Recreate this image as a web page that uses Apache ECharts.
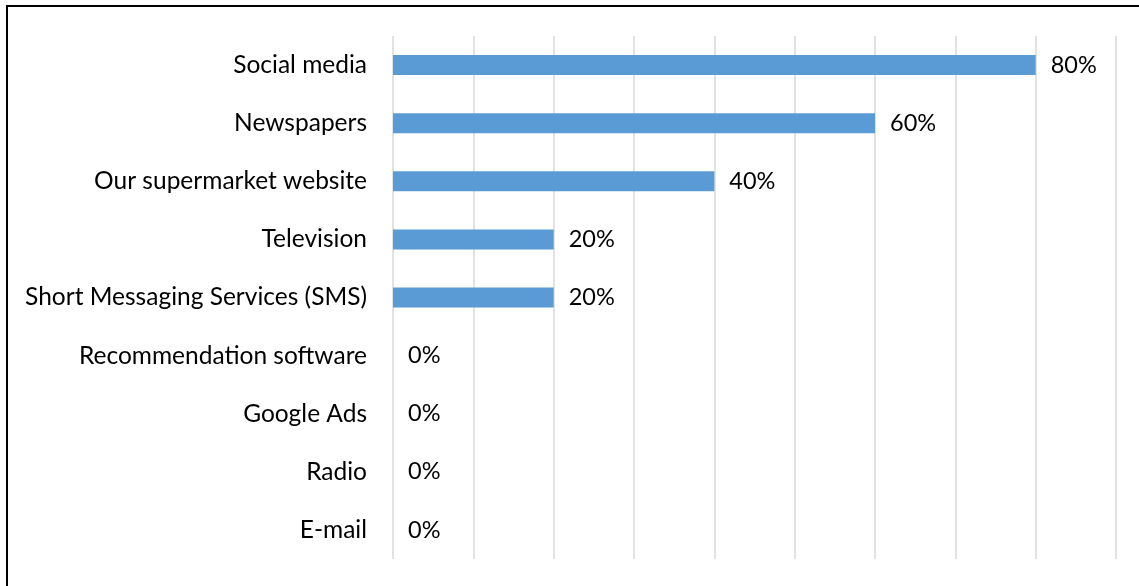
<!DOCTYPE html>
<html><head><meta charset="utf-8">
<script src="https://cdn.jsdelivr.net/npm/echarts@6/dist/echarts.min.js"></script>
<style>html,body{margin:0;padding:0;background:#fff}#c{width:1139px;height:586px}</style>
</head><body><div id="c"></div>
<script>
const categories = ["Social media","Newspapers","Our supermarket website","Television","Short Messaging Services (SMS)","Recommendation software","Google Ads","Radio","E-mail"];
const values = [0.80,0.60,0.40,0.20,0.20,0,0,0,0];
const FONT = 'Lato';
const chart = echarts.init(document.getElementById('c'), null, {renderer:'canvas'});
chart.setOption({
  animation:false,
  backgroundColor:'#fff',
  graphic:[{type:'rect',shape:{x:7,y:6,width:1200,height:1000},style:{fill:'none',stroke:'#000',lineWidth:2},silent:true}],
  grid:{left:393,right:23,top:36,bottom:27,containLabel:false},
  xAxis:{type:'value',min:0,max:0.9,interval:0.1,
    axisLabel:{show:false},axisLine:{show:false},axisTick:{show:false},
    splitLine:{show:true,lineStyle:{color:'#d9d9d9',width:1.5}}},
  yAxis:{type:'category',inverse:true,data:categories,
    axisLine:{show:false},axisTick:{show:false},
    axisLabel:{margin:26,color:'#000',fontFamily:FONT,fontSize:24.5}},
  series:[{type:'bar',data:values,barWidth:20,itemStyle:{color:'#5b9bd5'},
    label:{show:true,position:'right',distance:15,color:'#000',fontFamily:FONT,fontSize:23.5,
      formatter:p=>Math.round(p.value*100)+'%'}}]
});
</script></body></html>
